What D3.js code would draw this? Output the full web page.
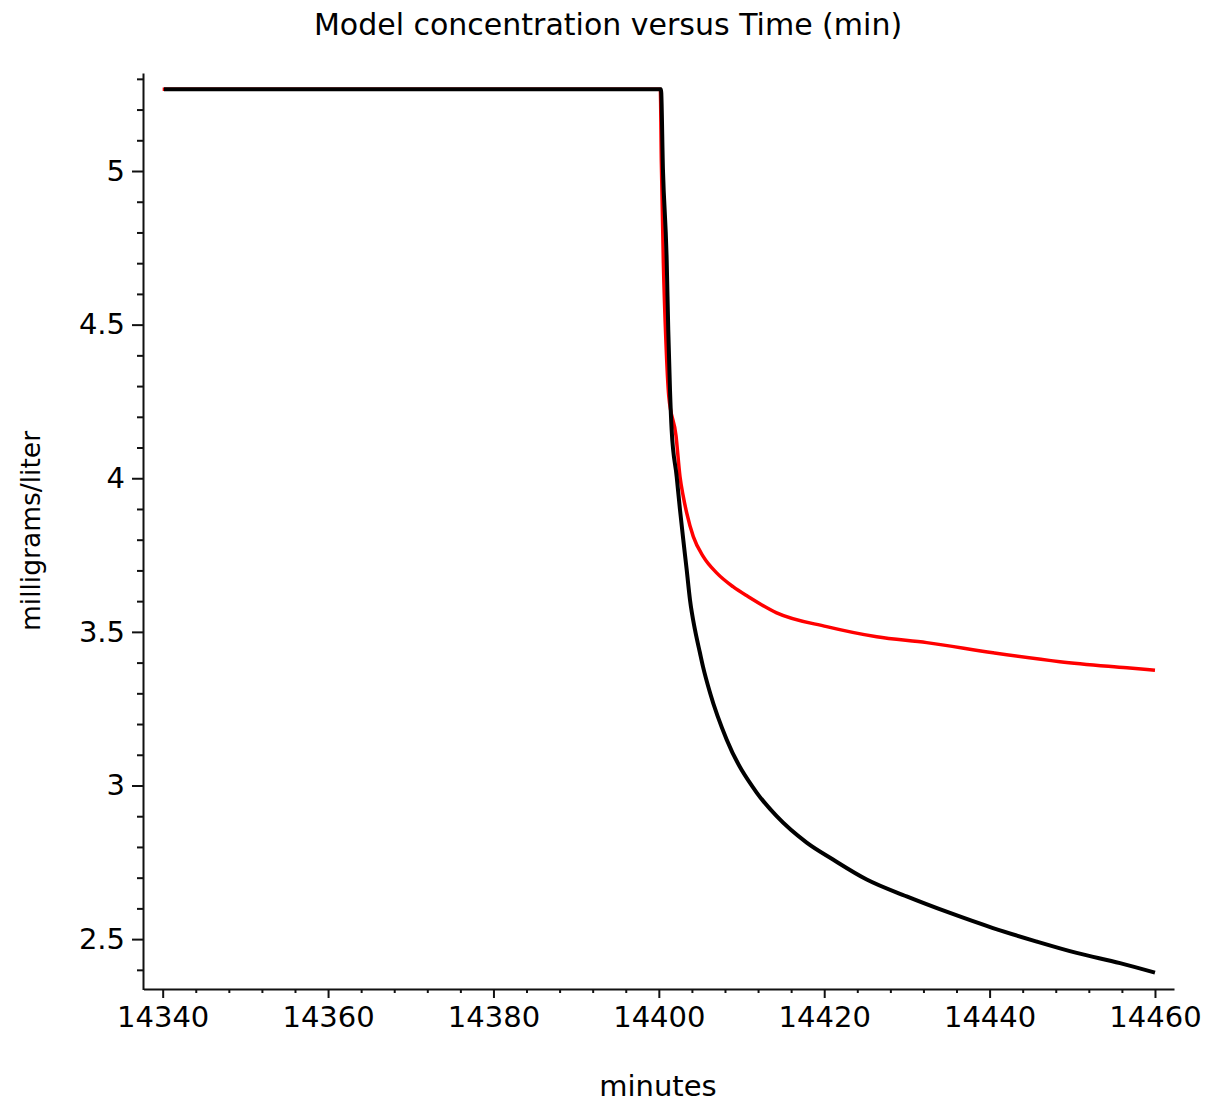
<!DOCTYPE html>
<html>
<head>
<meta charset="utf-8">
<script src="https://cdn.jsdelivr.net/npm/d3@7"></script>
<style>
  html, body { margin: 0; padding: 0; background: #fff; }
  svg { display: block; }
  text { font-family: "DejaVu Sans", sans-serif; fill: #000; }
</style>
</head>
<body>
<svg id="chart" width="1207" height="1103"></svg>
<script>
// ---- Data ----
const titleText = "Model concentration versus Time (min)";
const xLabel = "minutes";
const yLabel = "milligrams/liter";

const xMajorTicks = [14340, 14360, 14380, 14400, 14420, 14440, 14460];
const yMajorTicks = [2.5, 3, 3.5, 4, 4.5, 5];

// Black series (model 1)
const blackTimes  = [14340.15, 14400.26, 14400.5, 14400.95, 14401.14, 14401.35, 14401.55, 14402.16, 14402.56, 14402.96, 14403.37, 14403.77, 14404.37, 14404.97, 14405.34, 14406.19, 14408.21, 14411.83, 14414.25, 14417.88, 14421.06, 14425.14, 14429.97, 14435.21, 14440.41, 14445.7, 14450.53, 14455.77, 14460];
const blackValues = [5.266, 5.266, 5.003, 4.710, 4.483, 4.287, 4.157, 4.005, 3.897, 3.799, 3.702, 3.604, 3.507, 3.432, 3.387, 3.302, 3.149, 2.977, 2.900, 2.814, 2.759, 2.694, 2.639, 2.585, 2.536, 2.492, 2.455, 2.422, 2.391];

// Red series (model 2)
const redTimes  = [14340, 14400.18, 14400.3, 14400.55, 14400.85, 14401.2, 14402.08, 14402.56, 14402.96, 14403.37, 14404.17, 14405.38, 14406.99, 14408.97, 14410.78, 14414.25, 14420.3, 14426.35, 14432.4, 14440.41, 14448.5, 14456.6, 14460];
const redValues = [5.266, 5.266, 5.036, 4.700, 4.450, 4.268, 4.138, 4.005, 3.940, 3.887, 3.810, 3.745, 3.692, 3.647, 3.615, 3.562, 3.517, 3.484, 3.465, 3.432, 3.403, 3.383, 3.375];

// ---- Layout ----
const svg = d3.select("#chart");
const x = d3.scaleLinear().domain([14337.68, 14462.30]).range([143.5, 1174]);
const y = d3.scaleLinear().domain([2.336, 5.319]).range([989.5, 73]);

const xMinorTicks = d3.range(14340, 14460.01, 4).filter(v => !xMajorTicks.some(m => Math.abs(m - v) < 1e-6));
const yMinorTicks = d3.range(24, 54, 1).map(v => v / 10).filter(v => !yMajorTicks.some(m => Math.abs(m - v) < 1e-6));

// Series lines
const line = d3.line().x(d => x(d[0])).y(d => y(d[1])).curve(d3.curveMonotoneX);
const redData = redTimes.map((t, i) => [t, redValues[i]]);
const blackData = blackTimes.map((t, i) => [t, blackValues[i]]);

svg.append("path").datum(redData)
  .attr("d", line).attr("fill", "none")
  .attr("stroke", "#ff0000").attr("stroke-width", 3.5);
svg.append("path").datum(blackData)
  .attr("d", line).attr("fill", "none")
  .attr("stroke", "#000").attr("stroke-width", 4);

// Axes
svg.append("g").attr("transform", "translate(143,0)")
  .call(d3.axisLeft(y).tickValues(yMajorTicks).tickSize(11).tickSizeOuter(0)
        .tickPadding(7).tickFormat(d3.format("~g")));
svg.append("g").attr("transform", "translate(143,0)")
  .call(d3.axisLeft(y).tickValues(yMinorTicks).tickSize(6).tickFormat(""))
  .call(g => g.select(".domain").remove());

svg.append("g").attr("transform", "translate(0,989)")
  .call(d3.axisBottom(x).tickValues(xMajorTicks).tickSize(9).tickSizeOuter(0)
        .tickPadding(8).tickFormat(d3.format("d")));
svg.append("g").attr("transform", "translate(0,989)")
  .call(d3.axisBottom(x).tickValues(xMinorTicks).tickSize(4).tickFormat(""))
  .call(g => g.select(".domain").remove());

svg.selectAll(".domain").attr("stroke", "#111").attr("stroke-width", 2);
svg.selectAll(".tick line").attr("stroke", "#111").attr("stroke-width", 2);
svg.selectAll(".tick text").attr("font-family", "DejaVu Sans, sans-serif")
  .attr("font-size", 29).attr("fill", "#000");

// Titles
svg.append("text").attr("x", 608).attr("y", 35).attr("text-anchor", "middle")
  .attr("font-size", 30).text(titleText);
svg.append("text").attr("x", 658).attr("y", 1096).attr("text-anchor", "middle")
  .attr("font-size", 29).text(xLabel);
svg.append("text").attr("transform", "translate(40,531) rotate(-90)")
  .attr("text-anchor", "middle").attr("font-size", 26.5).text(yLabel);
</script>
</body>
</html>
